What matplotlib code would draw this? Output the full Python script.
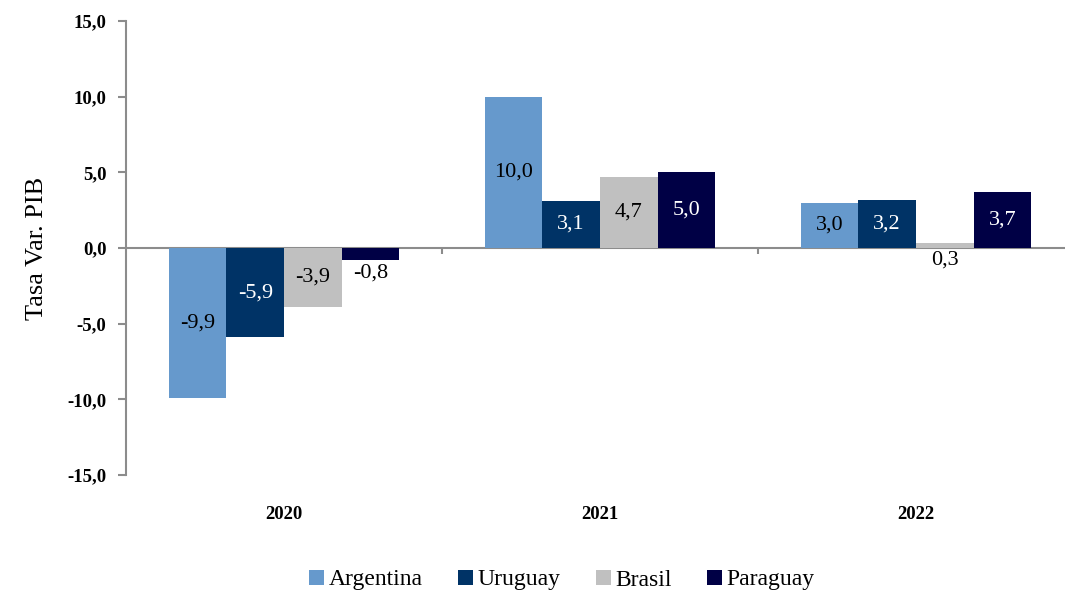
import matplotlib
matplotlib.use("Agg")
import matplotlib.pyplot as plt
import numpy as np

years = ["2020", "2021", "2022"]
countries = ["Argentina", "Uruguay", "Brasil", "Paraguay"]
argentina = [-9.9, 10.0, 3.0]
uruguay = [-5.9, 3.1, 3.2]
brasil = [-3.9, 4.7, 0.3]
paraguay = [-0.8, 5.0, 3.7]
yticks = [-15, -10, -5, 0, 5, 10, 15]

series = [argentina, uruguay, brasil, paraguay]
colors = ["#6699CC", "#003366", "#C0C0C0", "#000045"]
label_colors = ["black", "white", "black", "white"]

plt.rcParams['font.family'] = ['Liberation Serif', 'DejaVu Serif']

fig = plt.figure(figsize=(10.65, 5.92), dpi=100)
ax = fig.add_axes([126/1065, 1-475/592, (1074-126)/1065, (475-21)/592])

n = len(years)
x = np.arange(n)
bw = 0.182
offsets = (np.arange(len(series)) - (len(series)-1)/2) * bw

for s, vals in enumerate(series):
    ax.bar(x + offsets[s], vals, width=bw, color=colors[s],
           label=countries[s], zorder=2, edgecolor='none')
    for xi, v in zip(x + offsets[s], vals):
        txt = f"{v:.1f}".replace('.', ',')
        if abs(v) >= 1:
            ax.text(xi, v/2, txt, ha='center', va='center', fontsize=16,
                    color=label_colors[s], zorder=3)
        else:
            ax.text(xi, min(v, 0) - 0.2, txt, ha='center', va='top', fontsize=16,
                    color='black', zorder=3)

ax.set_xlim(-0.5, n-0.5)
ax.set_ylim(-15, 15)
ax.axhline(0, color='#8C8C8C', lw=1.5, zorder=1)
ax.vlines(np.arange(1, n) - 0.5, -0.4, 0, color='#8C8C8C', lw=1.5, zorder=1)

for sp in ['top', 'right', 'bottom']:
    ax.spines[sp].set_visible(False)
ax.spines['left'].set_color('#8C8C8C')
ax.spines['left'].set_linewidth(1.5)

ax.set_yticks(yticks)
ax.set_yticklabels([f"{t:.1f}".replace('.', ',') for t in yticks],
                   fontsize=13.5, fontweight='bold')
ax.tick_params(axis='y', length=6, width=1.5, color='#8C8C8C', pad=8)
ax.set_xticks(x)
ax.set_xticklabels(years, fontsize=13.5, fontweight='bold')
ax.tick_params(axis='x', length=0, pad=22)

ax.set_ylabel("Tasa Var. PIB", fontsize=19, labelpad=14)

fig.legend(loc='center', bbox_to_anchor=(562/1065, 1-580/592), ncol=4,
           frameon=False, prop={'family': ['Liberation Serif'], 'size': 17},
           handlelength=0.62, handleheight=0.62,
           handletextpad=0.2, columnspacing=1.5, borderpad=0)

fig.savefig("out.png", dpi=100)
